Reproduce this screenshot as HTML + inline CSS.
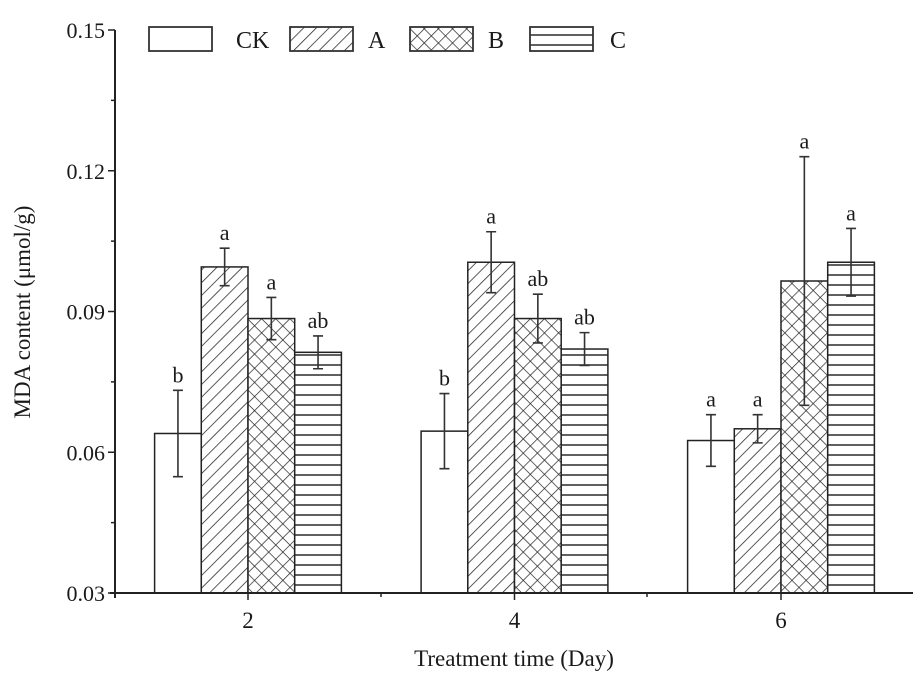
<!DOCTYPE html>
<html><head><meta charset="utf-8"><style>
body{margin:0;background:#fff}
svg text{font-family:"Liberation Serif",serif;fill:#1a1a1a}
</style></head><body>
<svg id="c" width="919" height="674">
<defs>
<pattern id="pA" width="9" height="9" patternUnits="userSpaceOnUse" patternTransform="rotate(45)"><rect width="9" height="9" fill="#fff"/><line x1="0" y1="0" x2="0" y2="9" stroke="#222" stroke-width="1.5"/></pattern>
<pattern id="pB" width="10" height="10" patternUnits="userSpaceOnUse" patternTransform="rotate(45)"><rect width="10" height="10" fill="#fff"/><line x1="0" y1="0" x2="0" y2="10" stroke="#222" stroke-width="1.4"/><line x1="0" y1="0" x2="10" y2="0" stroke="#222" stroke-width="1.4"/></pattern>
<pattern id="pC" width="10" height="10" patternUnits="userSpaceOnUse"><rect width="10" height="10" fill="#fff"/><line x1="0" y1="5" x2="10" y2="5" stroke="#444" stroke-width="1.7"/></pattern>
</defs>
<g id="plot"></g>
</svg>
<script>
const categories=["2","4","6"];
const seriesNames=["CK","A","B","C"];
const ckVals=[0.064,0.0645,0.0625];
const aVals=[0.0995,0.1005,0.065];
const bVals=[0.0885,0.0885,0.0965];
const cVals=[0.0813,0.082,0.1005];
const ckErr=[0.0092,0.008,0.0055];
const aErr=[0.004,0.0065,0.003];
const bErr=[0.0045,0.0052,0.0265];
const cErr=[0.0035,0.0035,0.0072];
const ckSig=["b","b","a"];
const aSig=["a","a","a"];
const bSig=["a","ab","a"];
const cSig=["ab","ab","a"];
const yTicks=["0.03","0.06","0.09","0.12","0.15"];
const vals=[ckVals,aVals,bVals,cVals],errs=[ckErr,aErr,bErr,cErr],sigs=[ckSig,aSig,bSig,cSig];
const fills=["#fff","url(#pA)","url(#pB)","url(#pC)"];
const NS="http://www.w3.org/2000/svg",g=document.getElementById('plot');
const y=v=>593-(v-0.03)/0.12*563;
const x=i=>248+i*266.5;
const bw=46.7;
function mk(t,a,p){const e=document.createElementNS(NS,t);for(const k in a)e.setAttribute(k,a[k]);(p||g).appendChild(e);return e;}
for(let s=0;s<4;s++)for(let i=0;i<3;i++){
 const x0=x(i)-2*bw+s*bw,v=vals[s][i],e=errs[s][i],cx=x0+bw/2;
 const r=mk('rect',{x:x0,y:y(v),width:bw,height:593-y(v),fill:fills[s],stroke:'#222','stroke-width':1.5});
 
 
 const eb=mk('path',{d:`M${cx},${y(v+e)}V${y(v-e)}M${cx-5},${y(v+e)}h10M${cx-5},${y(v-e)}h10`,stroke:'#333','stroke-width':1.6,fill:'none'});
 
 
 const t=mk('text',{x:cx,y:y(v+e)-8,'text-anchor':'middle','font-size':22});t.textContent=sigs[s][i];
 
 
}
mk('line',{x1:115,y1:30,x2:115,y2:598,stroke:'#222','stroke-width':2});
mk('line',{x1:110,y1:593,x2:913,y2:593,stroke:'#222','stroke-width':2});
for(let k=0;k<9;k++){const v=0.03+k*0.015;mk('line',{x1:k%2?111:108,y1:y(v),x2:115,y2:y(v),stroke:'#222','stroke-width':1.5});}
yTicks.forEach(tk=>{const t=mk('text',{x:105,y:y(+tk)+8,'text-anchor':'end','font-size':22});t.textContent=tk;
 });
categories.forEach((c,i)=>{mk('line',{x1:x(i),y1:593,x2:x(i),y2:600,stroke:'#222','stroke-width':1.5});
 const t=mk('text',{x:x(i),y:628,'text-anchor':'middle','font-size':23});t.textContent=c;
 });
[381,647].forEach(xx=>mk('line',{x1:xx,y1:593,x2:xx,y2:597,stroke:'#222','stroke-width':1.5}));
let t=mk('text',{x:514,y:666,'text-anchor':'middle','font-size':23});t.textContent='Treatment time (Day)';

t=mk('text',{x:0,y:0,'text-anchor':'middle','font-size':23,transform:'translate(30,312) rotate(-90)'});t.textContent='MDA content (μmol/g)';

const lx=[149,290,410,530],tx=[236,368,488,610];
seriesNames.forEach((n,s)=>{const r=mk('rect',{x:lx[s],y:27,width:63,height:24,fill:fills[s],stroke:'#333','stroke-width':1.8});
 
 const tt=mk('text',{x:tx[s],y:48,'font-size':24});tt.textContent=n;
 });
</script>
</body></html>
